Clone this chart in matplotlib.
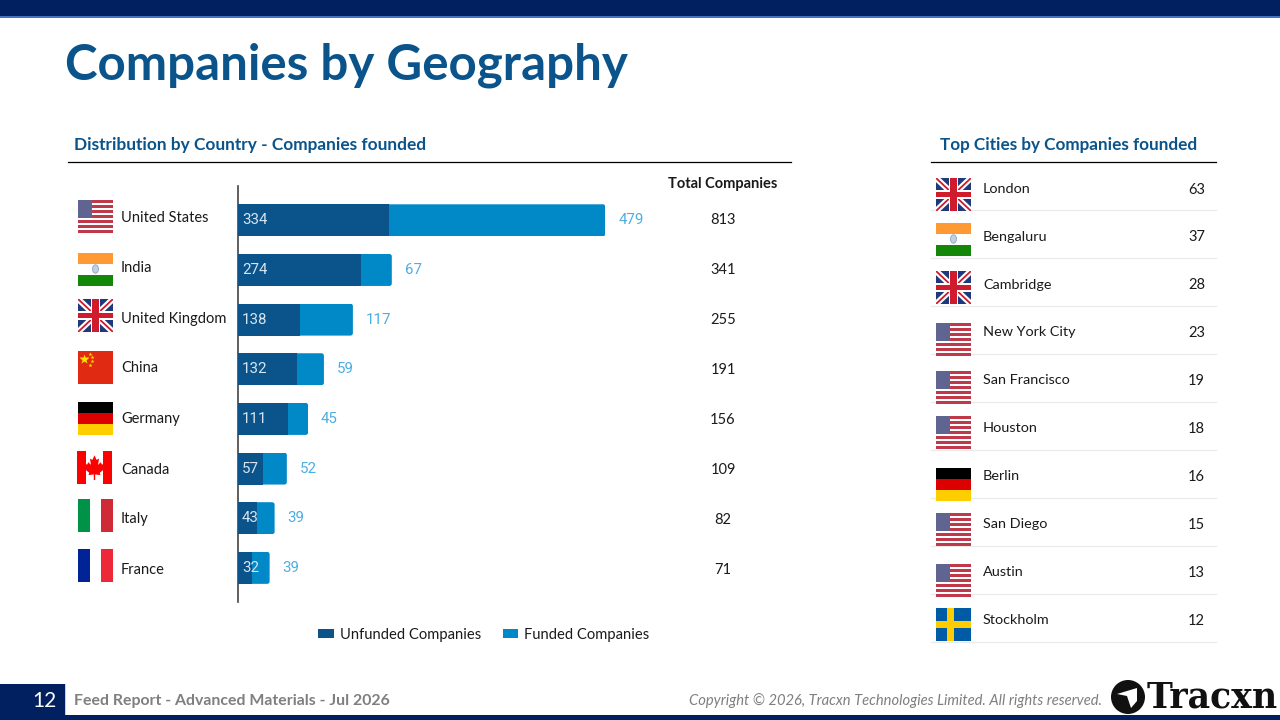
import matplotlib
matplotlib.use("Agg")
import matplotlib.pyplot as plt
from matplotlib.patches import Rectangle, Polygon, Circle, Ellipse, FancyBboxPatch
from matplotlib.transforms import IdentityTransform

countries = ["United States", "India", "United Kingdom", "China", "Germany", "Canada", "Italy", "France"]
unfunded = [334, 274, 138, 132, 111, 57, 43, 32]
funded = [479, 67, 117, 59, 45, 52, 39, 39]
totals = [813, 341, 255, 191, 156, 109, 82, 71]
country_flags = ["us", "in", "uk", "cn", "de", "ca", "it", "fr"]
cities = ["London", "Bengaluru", "Cambridge", "New York City", "San Francisco", "Houston", "Berlin", "San Diego", "Austin", "Stockholm"]
city_counts = [63, 37, 28, 23, 19, 18, 16, 15, 13, 12]
city_flags = ["uk", "in", "uk", "us", "us", "us", "de", "us", "us", "se"]

NAVY = "#002060"; DARK = "#0A548B"; LIGHT = "#0088C7"; OUT = "#4DAEE0"; TXT = "#1A1A1A"
plt.rcParams["font.family"] = ["Lato", "DejaVu Sans"]
W, H = 1280, 720
fig = plt.figure(figsize=(12.8, 7.2), dpi=100, facecolor="white")

# bar axes
L, R, T, B = 237.5, 790, 186, 602
ax = fig.add_axes([L / W, 1 - B / H, (R - L) / W, (B - T) / H], facecolor="none")
ax.set_xlim(0, (R - L) / 0.4525)
y0, step = 220.3, 49.65
ax.set_ylim((B - y0) / step, (T - y0) / step)
ys = list(range(len(countries)))
barh_px = 32 / step
b1 = ax.barh(ys, unfunded, height=barh_px, color=DARK, label="Unfunded Companies", zorder=3)
b2 = ax.barh(ys, funded, left=unfunded, height=barh_px, color=LIGHT, label="Funded Companies", zorder=2)
for r in b2:
    e = r.get_window_extent()
    c = FancyBboxPatch((e.x0 - 6, e.y0 + 1), e.width + 5, e.height - 2, boxstyle="round,pad=1,rounding_size=2.5",
                       transform=IdentityTransform())
    r.set_clip_path(c)
for i in ys:
    ax.annotate(str(unfunded[i]), (0, i), xytext=(4.5, 0), textcoords="offset pixels", color="#D8E5F0",
                va="center", ha="left", fontsize=10.8, family="Roboto", zorder=5)
    ax.annotate(str(funded[i]), (unfunded[i] + funded[i], i), xytext=(13, 0), textcoords="offset pixels",
                color=OUT, va="center", ha="left", fontsize=10.8, family="Roboto", zorder=5)
for s in ("top", "right", "bottom"):
    ax.spines[s].set_visible(False)
ax.spines["left"].set_color("#444444"); ax.spines["left"].set_linewidth(1.2)
ax.set_xticks([]); ax.set_yticks([])
ax.legend(handles=[b1, b2], ncol=2, frameon=False, loc="center", bbox_to_anchor=(484 / W, 1 - 634.5 / H),
          bbox_transform=fig.transFigure, fontsize=10.6, handlelength=1.03, handleheight=0.55,
          handletextpad=0.42, columnspacing=1.5, labelcolor=TXT)

# overlay in pixel coordinates
ov = fig.add_axes([0, 0, 1, 1], facecolor="none")
ov.set_xlim(0, W); ov.set_ylim(H, 0); ov.axis("off")


def rect(x, y, w, h, c, z=2):
    p = Rectangle((x, y), w, h, fc=c, ec="none", zorder=z)
    ov.add_patch(p)
    return p


def flag(code, x, y, w=35, h=33):
    clip = Rectangle((x, y), w, h, transform=ov.transData)
    def add(p):
        ov.add_patch(p); p.set_clip_path(clip); return p
    def poly(pts, c):
        add(Polygon([(x + a * w, y + b * h) for a, b in pts], fc=c, ec="none", zorder=3))
    if code == "us":
        rect(x, y, w, h, "white")
        for i in range(0, 13, 2):
            rect(x, y + i * h / 13, w, h / 13, "#C0394B", 3)
        rect(x, y, w * 0.4, h * 7 / 13, "#5F6490", 4)
    elif code == "in":
        rect(x, y, w, h / 3, "#FF9933"); rect(x, y + h / 3, w, h / 3, "white"); rect(x, y + 2 * h / 3, w, h / 3, "#138808")
        add(Ellipse((x + w / 2, y + h / 2 - 0.5), 6, 8.5, fc="#BFD0E4", ec="#8FA6C8", lw=0.6, zorder=4))
    elif code == "uk":
        rect(x, y, w, h, "#1F3A7A")
        for pts, c, lw in [([(0, 0), (1, 1)], "white", 6.0), ([(0, 1), (1, 0)], "white", 6.0),
                           ([(0, 0), (1, 1)], "#CF1B2B", 1.8), ([(0, 1), (1, 0)], "#CF1B2B", 1.8)]:
            ln, = ov.plot([x + pts[0][0] * w, x + pts[1][0] * w], [y + pts[0][1] * h, y + pts[1][1] * h],
                          color=c, lw=lw * 0.72, zorder=3, solid_capstyle="butt")
            ln.set_clip_path(clip)
        rect(x + w * 0.36, y, w * 0.28, h, "white", 4); rect(x, y + h * 0.35, w, h * 0.30, "white", 4)
        rect(x + w * 0.41, y, w * 0.18, h, "#CF1B2B", 5); rect(x, y + h * 0.41, w, h * 0.18, "#CF1B2B", 5)
    elif code == "cn":
        rect(x, y, w, h, "#E12A12")
        ov.plot([x + 5.5], [y + 8], marker="*", ms=7, color="#FFDE00", mec="none", zorder=4)
        for a, b in [(11.5, 3), (14, 6), (14, 10), (11.5, 14)]:
            ov.plot([x + a], [y + b], marker="*", ms=3, color="#FFDE00", mec="none", zorder=4)
    elif code == "de":
        rect(x, y, w, h / 3, "#000000"); rect(x, y + h / 3, w, h / 3, "#DD0000"); rect(x, y + 2 * h / 3, w, h / 3, "#FFCE00")
    elif code == "ca":
        rect(x, y, w, h, "white"); rect(x, y, w * 0.26, h, "#FF0000"); rect(x + w * 0.74, y, w * 0.26, h, "#FF0000")
        poly([(.5, .13), (.56, .27), (.63, .23), (.60, .42), (.68, .34), (.71, .41), (.79, .39), (.76, .50), (.80, .53),
              (.65, .66), (.67, .73), (.52, .71), (.52, .88), (.48, .88), (.48, .71), (.33, .73), (.35, .66), (.20, .53),
              (.24, .50), (.21, .39), (.29, .41), (.32, .34), (.40, .42), (.37, .23), (.44, .27)], "#FF0000")
    elif code == "it":
        rect(x, y, w / 3, h, "#009246"); rect(x + w / 3, y, w / 3, h, "white"); rect(x + 2 * w / 3, y, w / 3, h, "#CE2B37")
    elif code == "fr":
        rect(x, y, w / 3, h, "#002395"); rect(x + w / 3, y, w / 3, h, "white"); rect(x + 2 * w / 3, y, w / 3, h, "#ED2939")
    elif code == "se":
        rect(x, y, w, h, "#005BA5"); rect(x + w * 0.31, y, w * 0.19, h, "#FECC00", 3); rect(x, y + h * 0.40, w, h * 0.20, "#FECC00", 3)


# chrome
rect(0, 0, W, 16, NAVY); rect(0, 16, W, 2, "#4472C4")
rect(0, 715, W, 5, NAVY); rect(0, 684, 65, 31, NAVY); rect(65, 684, 1, 31, "#C5D3E8")
ov.text(65, 65.5, "Companies by Geography", color=DARK, fontsize=35.5, fontweight="bold", va="center", ha="left")
ov.text(74, 145, "Distribution by Country - Companies founded", color=DARK, fontsize=12.4, fontweight="bold", va="center")
ov.text(940, 145, "Top Cities by Companies founded", color=DARK, fontsize=12.3, fontweight="bold", va="center")
ov.plot([68, 791], [162, 162], color="black", lw=0.9)
ov.plot([931, 1216], [162, 162], color="black", lw=0.9)
ov.text(723, 184, "Total Companies", color=TXT, fontsize=10.5, fontweight="bold", ha="center", va="center")

flag_tops = [200, 253, 299, 351, 402, 451, 499, 549]
label_ys = [218.5, 268.5, 318.5, 368.5, 419.5, 469.5, 519.5, 569.5]
total_ys = [220.5, 270.5, 320.5, 370.5, 420.5, 469.5, 519.5, 569.5]
for i, c in enumerate(countries):
    flag(country_flags[i], 77 if c == "Canada" else 78, flag_tops[i])
    ov.text(121, label_ys[i], c, color=TXT, fontsize=10.5, va="center")
    ov.text(723, total_ys[i], str(totals[i]), color=TXT, fontsize=10.5, va="center", ha="center")

city_tops = [178, 223, 271, 323, 371, 416, 468, 513, 564, 608]
for i, c in enumerate(cities):
    yc = 188.8 + 47.9 * i
    flag(city_flags[i], 936, city_tops[i])
    ov.text(983, yc, c, color=TXT, fontsize=10.4, va="center")
    ov.text(1205, yc + 0.7, str(city_counts[i]), color=TXT, fontsize=10.5, va="center", ha="right")
    ov.plot([931, 1216], [210 + 48 * i] * 2, color="#EAEAEA", lw=0.9, zorder=1)

# footer
ov.text(44, 701, "12", color="white", fontsize=15, va="center", ha="center")
ov.text(74, 701, "Feed Report - Advanced Materials - Jul 2026", color="#7F7F7F", fontsize=11.4, fontweight="bold", va="center")
ov.text(1102, 701, "Copyright © 2026, Tracxn Technologies Limited. All rights reserved.", color="#7F7F7F",
        fontsize=10.6, style="italic", va="center", ha="right")
ov.add_patch(Circle((1128, 697), 17, fc="#111111", ec="none", zorder=3))
ov.add_patch(Polygon([(1117, 694), (1137, 688), (1137, 701), (1131, 708), (1127, 696)], fc="white", ec="none", zorder=4))
ov.text(1147, 698, "Tracxn", color="#111111", fontsize=25, fontweight="bold", family="DejaVu Serif", va="center", ha="left")

fig.savefig("out.png", dpi=100)
